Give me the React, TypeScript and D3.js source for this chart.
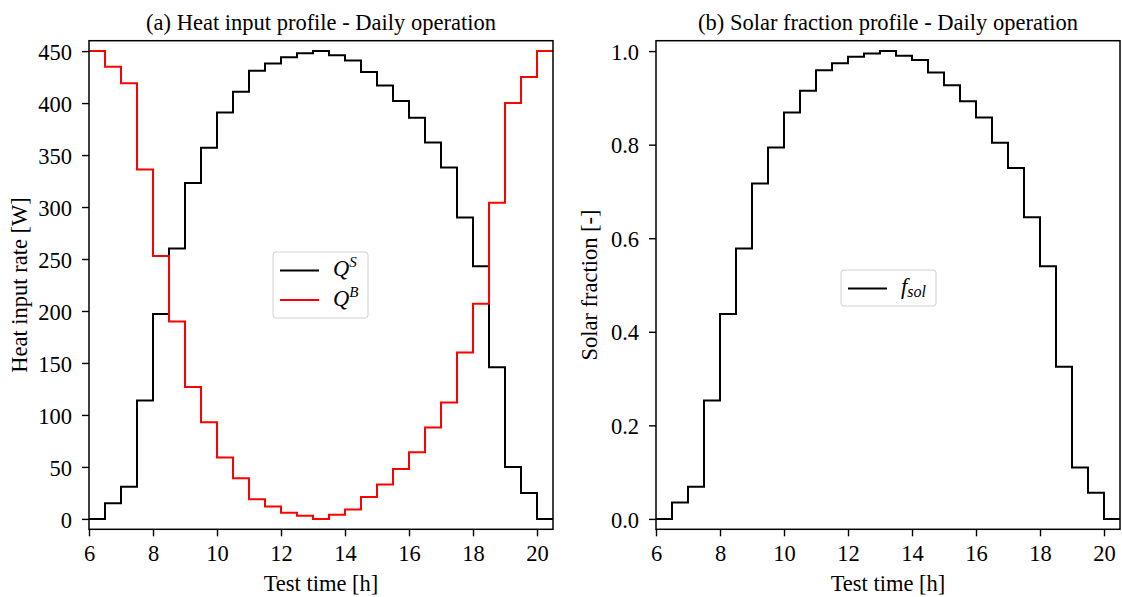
import { useEffect, useRef } from "react";
import * as d3 from "d3";

// step edges: 6.0 .. 20.5 h, one value per half-hour interval
const stepStarts = [6, 6.5, 7, 7.5, 8, 8.5, 9, 9.5, 10, 10.5, 11, 11.5, 12, 12.5, 13, 13.5, 14, 14.5, 15, 15.5, 16, 16.5, 17, 17.5, 18, 18.5, 19, 19.5, 20];
const endTime = 20.5;

const qSolar = [0, 15, 31, 114, 197, 260, 323, 357, 391, 411, 431, 438, 444, 448, 450, 446, 441, 430, 417, 402, 386, 362, 338, 290, 243, 146, 50, 25, 0];
const qBackup = [450, 435, 419, 336, 253, 190, 127, 93, 59, 39, 19, 12, 6, 3, 0, 4, 9, 21, 33, 48, 64, 88, 112, 160, 207, 304, 400, 425, 450];
const fSol = [0, 0.035, 0.069, 0.253, 0.438, 0.578, 0.717, 0.794, 0.869, 0.915, 0.959, 0.974, 0.988, 0.995, 1.0, 0.99, 0.981, 0.954, 0.927, 0.893, 0.858, 0.804, 0.75, 0.645, 0.54, 0.325, 0.11, 0.056, 0];

const xTicks = [6, 8, 10, 12, 14, 16, 18, 20];
const heatTicks = [0, 50, 100, 150, 200, 250, 300, 350, 400, 450];
const fracTicks = [0, 0.2, 0.4, 0.6, 0.8, 1.0];

const W = 1122, H = 597;
const FONT = "'Liberation Serif', 'DejaVu Serif', serif";
const FS = "22.5px";

type Pt = [number, number];
const toSteps = (vals: number[]): Pt[] => [
  ...vals.map((v, i) => [stepStarts[i], v] as Pt),
  [endTime, vals[vals.length - 1]],
];

const App = () => {
  const ref = useRef<SVGSVGElement>(null);

  useEffect(() => {
    const svg = d3.select(ref.current);
    svg.selectAll("*").remove();
    svg.attr("width", W).attr("height", H);
    svg.append("rect").attr("width", W).attr("height", H).attr("fill", "#fff");

    const top = 40.7, bottom = 529.3;

    const drawPanel = (opt: {
      left: number; right: number; yDomain: [number, number]; yTicks: number[];
      fmt: (d: number) => string; title: string; ylabel: string; ylabelX: number;
      series: { vals: number[]; color: string }[];
      legend: { x: number; y: number; w: number; h: number; items: { color: string; base: string; sup?: string; sub?: string }[] };
    }) => {
      const x = d3.scaleLinear().domain([6, endTime]).range([opt.left, opt.right]);
      const y = d3.scaleLinear().domain(opt.yDomain).range([bottom, top]);
      const g = svg.append("g");

      const line = d3.line<Pt>().x((d) => x(d[0])).y((d) => y(d[1])).curve(d3.curveStepAfter);
      opt.series.forEach((s) => {
        g.append("path")
          .attr("d", line(toSteps(s.vals)))
          .attr("fill", "none")
          .attr("stroke", s.color)
          .attr("stroke-width", 2);
      });

      // axes
      const xa = g.append("g").attr("transform", `translate(0,${bottom})`)
        .call(d3.axisBottom(x).tickValues(xTicks).tickSize(7).tickFormat((d) => String(d)));
      xa.selectAll("text").attr("y", 31.5).attr("dy", 0);
      const ya = g.append("g").attr("transform", `translate(${opt.left},0)`)
        .call(d3.axisLeft(y).tickValues(opt.yTicks).tickSize(7).tickFormat((d) => opt.fmt(+d)));
      ya.selectAll("text").attr("x", -17).attr("dy", "0.36em");
      [xa, ya].forEach((a) => {
        a.select(".domain").remove();
        a.selectAll("line").attr("stroke", "#000").attr("stroke-width", 1.4);
        a.selectAll("text").attr("fill", "#000").style("font-family", FONT).style("font-size", FS);
      });

      g.append("rect")
        .attr("x", opt.left).attr("y", top)
        .attr("width", opt.right - opt.left).attr("height", bottom - top)
        .attr("fill", "none").attr("stroke", "#000").attr("stroke-width", 1.5);

      g.append("text")
        .attr("x", (opt.left + opt.right) / 2).attr("y", 30)
        .attr("text-anchor", "middle").style("font-family", FONT).style("font-size", FS)
        .text(opt.title);
      g.append("text")
        .attr("x", (opt.left + opt.right) / 2).attr("y", 591)
        .attr("text-anchor", "middle").style("font-family", FONT).style("font-size", FS)
        .text("Test time [h]");
      g.append("text")
        .attr("transform", `translate(${opt.ylabelX},${(top + bottom) / 2}) rotate(-90)`)
        .attr("text-anchor", "middle").style("font-family", FONT).style("font-size", FS)
        .text(opt.ylabel);

      // legend
      const L = opt.legend;
      g.append("rect")
        .attr("x", L.x).attr("y", L.y).attr("width", L.w).attr("height", L.h)
        .attr("rx", 3).attr("fill", "#fff").attr("fill-opacity", 0.8)
        .attr("stroke", "#d0d0d0").attr("stroke-width", 1);
      L.items.forEach((it, i) => {
        const cy = L.y + 18.4 + i * 29.6;
        g.append("line")
          .attr("x1", L.x + 7).attr("x2", L.x + 46).attr("y1", cy).attr("y2", cy)
          .attr("stroke", it.color).attr("stroke-width", 2);
        const t = g.append("text")
          .attr("x", L.x + 60).attr("y", cy + 6)
          .style("font-family", FONT).style("font-size", FS).style("font-style", "italic");
        t.append("tspan").text(it.base);
        if (it.sup) t.append("tspan").attr("dy", -9).style("font-size", "15px").text(it.sup);
        if (it.sub) t.append("tspan").attr("dy", 3).style("font-size", "16px").text(it.sub);
      });
    };

    drawPanel({
      left: 89, right: 553, yDomain: [-10, 460], yTicks: heatTicks,
      fmt: (d) => String(d),
      title: "(a) Heat input profile - Daily operation",
      ylabel: "Heat input rate [W]", ylabelX: 27,
      series: [{ vals: qSolar, color: "#000" }, { vals: qBackup, color: "#ff0000" }],
      legend: { x: 273, y: 252, w: 95, h: 66, items: [
        { color: "#000", base: "Q", sup: "S" },
        { color: "#ff0000", base: "Q", sup: "B" },
      ] },
    });

    drawPanel({
      left: 656, right: 1120, yDomain: [-10 / 450, 460 / 450], yTicks: fracTicks,
      fmt: (d) => d.toFixed(1),
      title: "(b) Solar fraction profile - Daily operation",
      ylabel: "Solar fraction [-]", ylabelX: 597,
      series: [{ vals: fSol, color: "#000" }],
      legend: { x: 841, y: 270, w: 95, h: 36, items: [
        { color: "#000", base: "f", sub: "sol" },
      ] },
    });
  }, []);

  return <svg ref={ref} style={{ position: "absolute", left: 0, top: 0 }} />;
};

export default App;
